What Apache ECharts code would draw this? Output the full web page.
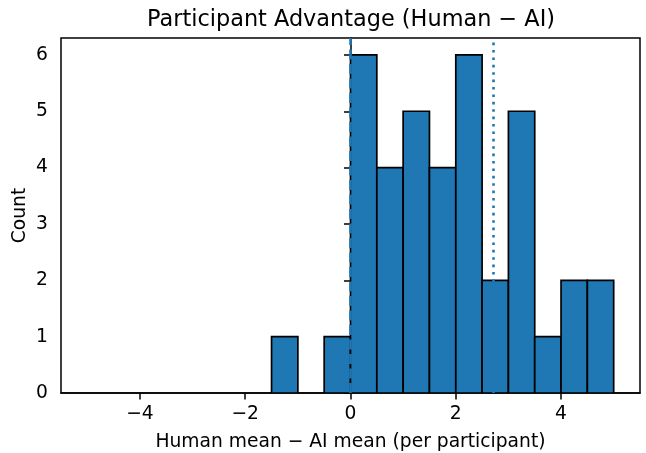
<!DOCTYPE html>
<html>
<head>
<meta charset="utf-8">
<script src="https://cdn.jsdelivr.net/npm/echarts@6/dist/echarts.min.js"></script>
<style>html,body{margin:0;padding:0;background:#fff;}#c{width:646px;height:453px;}</style>
</head>
<body>
<div id="c"></div>
<script>
// Histogram bin edges (left, right) and counts
var binLeft  = [-5, -4.5, -4, -3.5, -3, -2.5, -2, -1.5, -1, -0.5, 0, 0.5, 1, 1.5, 2, 2.5, 3, 3.5, 4, 4.5];
var binRight = [-4.5, -4, -3.5, -3, -2.5, -2, -1.5, -1, -0.5, 0, 0.5, 1, 1.5, 2, 2.5, 3, 3.5, 4, 4.5, 5];
var counts   = [0, 0, 0, 0, 0, 0, 0, 1, 0, 1, 6, 4, 5, 4, 6, 2, 5, 1, 2, 2];
var xTicks = [-4, -2, 0, 2, 4];
var yTicks = [0, 1, 2, 3, 4, 5, 6];
var zeroLine = 0;
var meanLine = 2.72;
var titleText = 'Participant Advantage (Human \u2212 AI)';
var xLabel = 'Human mean \u2212 AI mean (per participant)';
var yLabel = 'Count';

var data = [];
for (var i = 0; i < counts.length; i++) {
  if (counts[i] > 0) data.push([binLeft[i], binRight[i], counts[i]]);
}
var FONT = 'DejaVu Sans';
var FS = 18.7;
var chart = echarts.init(document.getElementById('c'), null, {renderer: 'canvas'});
chart.setOption({
  backgroundColor: '#fff',
  animation: false,
  title: {
    text: titleText, left: 351, textAlign: 'center', top: 9, padding: 0,
    textStyle: {fontFamily: FONT, fontSize: 22.4, fontWeight: 'normal', color: '#000'}
  },
  grid: {left: 61, right: 6, top: 38, bottom: 60, show: true, borderColor: '#000', borderWidth: 1.5,
    backgroundColor: 'transparent', containLabel: false, outerBoundsMode: 'none'},
  xAxis: {
    type: 'value', min: -5.5, max: 5.5,
    name: xLabel, nameLocation: 'middle', nameGap: 40, nameMoveOverlap: false,
    nameTextStyle: {fontFamily: FONT, fontSize: FS, color: '#000'},
    axisLine: {show: true, onZero: false, lineStyle: {color: '#000', width: 1.5}},
    axisTick: {show: true, customValues: xTicks, length: 6.5, lineStyle: {color: '#000', width: 1.5}},
    axisLabel: {customValues: xTicks, margin: 12, fontFamily: FONT, fontSize: FS, color: '#000',
      formatter: function (v) { return String(v).replace('-', '\u2212'); }},
    splitLine: {show: false}
  },
  yAxis: {
    type: 'value', min: 0, max: 6.3,
    name: yLabel, nameLocation: 'middle', nameGap: 31, nameMoveOverlap: false,
    nameTextStyle: {fontFamily: FONT, fontSize: FS, color: '#000'},
    axisLine: {show: true, lineStyle: {color: '#000', width: 1.5}},
    axisTick: {show: true, customValues: yTicks, length: 6.5, lineStyle: {color: '#000', width: 1.5}},
    axisLabel: {customValues: yTicks, margin: 13, fontFamily: FONT, fontSize: FS, color: '#000'},
    splitLine: {show: false}
  },
  series: [{
    type: 'custom',
    data: data,
    encode: {x: [0, 1], y: 2},
    clip: true,
    renderItem: function (params, api) {
      var p0 = api.coord([api.value(0), api.value(2)]);
      var p1 = api.coord([api.value(1), 0]);
      return {
        type: 'rect',
        shape: {x: p0[0], y: p0[1], width: p1[0] - p0[0], height: p1[1] - p0[1]},
        style: {fill: '#1f77b4', stroke: '#000', lineWidth: 1.7}
      };
    },
    markLine: {
      silent: true, symbol: 'none', label: {show: false}, z: 10,
      data: [
        {xAxis: zeroLine, lineStyle: {color: '#1f77b4', width: 2.6, type: [10, 4.5]}},
        {xAxis: meanLine, lineStyle: {color: '#1f77b4', width: 2.6, type: [2.6, 4.8]}}
      ]
    }
  }]
});
</script>
</body>
</html>
